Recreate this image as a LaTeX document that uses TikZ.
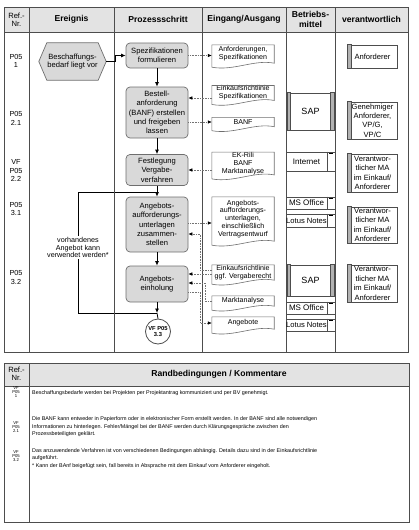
\documentclass[tikz,border=0pt]{standalone}
\usepackage{fontspec}
\setmainfont{Liberation Sans}
\usetikzlibrary{arrows.meta,calc,backgrounds}
\definecolor{hdrfill}{HTML}{E3E3E3}
\definecolor{boxfill}{HTML}{D9D9D9}
\definecolor{linec}{HTML}{4D4D4D}
\definecolor{boxline}{HTML}{6E6E6E}
\newcommand{\fs}[2]{\fontsize{#1}{#2}\selectfont}
\newcommand{\tabt}[1]{\makebox[41pt]{#1}\hspace*{8pt}}
\tikzset{
  tl/.style={draw=linec, line width=0.8pt},
  hdr/.style={font=\fs{8.6}{9.2}\bfseries, align=center, inner sep=0pt},
  hdrref/.style={font=\fs{7.6}{8.4}, align=center, inner sep=0pt},
  reft/.style={font=\fs{7.3}{8.5}, align=center, inner sep=0pt},
  evt/.style={minimum width=67pt, minimum height=37pt, align=center, font=\fs{7.6}{8.6}, inner sep=0pt},
  evline/.style={draw=boxline, fill=boxfill, line width=0.7pt},
  proc/.style={draw=boxline, fill=boxfill, rounded corners=4pt, line width=0.7pt, minimum width=62pt, align=center, font=\fs{7.6}{9.3}, inner sep=0pt},
  docn/.style={minimum width=62pt, align=center, font=\fs{7.1}{7.9}, inner sep=0pt},
  docline/.style={draw=boxline, line width=0.6pt},
  flow/.style={-{Latex[length=4.5pt,width=4pt]}, line width=0.8pt, black},
  flowl/.style={line width=0.8pt, black},
  info/.style={-{Latex[length=4pt,width=3.6pt,color=black]}, densely dotted, line width=0.6pt, black!55},
  infol/.style={densely dotted, line width=0.6pt, black!55},
  bm/.style={draw=linec, line width=0.7pt, minimum width=49pt, inner sep=0pt, font=\fs{8}{9}},
  vb/.style={draw=linec, line width=0.7pt, minimum width=49pt, inner sep=0pt, align=center, font=\fs{7.6}{9.4}},
  lab/.style={fill=white, align=center, font=\fs{7.2}{7.7}, inner sep=1pt},
  body/.style={align=left, font=\fs{5.4}{7.4}, inner sep=0pt, anchor=north west},
  sref/.style={align=center, font=\fs{4.2}{4.2}, inner sep=0pt}
}
\begin{document}
\begin{tikzpicture}[x=1pt,y=-1pt]
\useasboundingbox (0,0) rectangle (418,530);
% ---------- table 1 frame
\fill[hdrfill] (4,7) rectangle (408,32);
\draw[tl] (4,7) rectangle (408,352);
\draw[tl] (4,32) -- (408,32);
\foreach \x in {29,114,202,286,335} \draw[tl] (\x,7) -- (\x,352);
% headers
\node[hdrref] (h1) at (16.5,19.5) {Ref.-\\Nr.};
\node[hdr] (h2) at (71.5,19.5) {Ereignis};
\node[hdr] (h3) at (158,19.5) {Prozessschritt};
\node[hdr] (h4) at (244,19.5) {Eingang/Ausgang};
\node[hdr] (h5) at (310.5,19.5) {Betriebs-\\mittel};
\node[hdr] (h6) at (371.5,19.5) {verantwortlich};
% ref numbers
\node[reft] (r1) at (16,61) {P05\\1};
\node[reft] (r2) at (16,118.5) {P05\\2.1};
\node[reft] (r3) at (16,170.5) {VF\\P05\\2.2};
\node[reft] (r4) at (16,209) {P05\\3.1};
\node[reft] (r5) at (16,277.5) {P05\\3.2};
% event
\node[evt] (ev) at (72.5,61.5) {Beschaffungs-\\bedarf liegt vor};
\begin{scope}[on background layer]
\draw[evline] (ev.west) -- ([xshift=8pt]ev.north west) -- ([xshift=-8pt]ev.north east) -- (ev.east) -- ([xshift=-8pt]ev.south east) -- ([xshift=8pt]ev.south west) -- cycle;
\end{scope}
% process steps
\node[proc, minimum height=25pt] (p1) at (157,55.5) {Spezifikationen\\formulieren};
\node[proc, minimum height=51pt] (p2) at (157,112.5) {Bestell-\\anforderung\\(BANF) erstellen\\und freigeben\\lassen};
\node[proc, minimum height=31pt] (p3) at (157,170) {Festlegung\\Vergabe-\\verfahren};
\node[proc, minimum height=55pt] (p4) at (157,224.5) {Angebots-\\aufforderungs-\\unterlagen\\zusammen-\\stellen};
\node[proc, minimum height=36pt] (p5) at (157,284) {Angebots-\\einholung};
\node[circle, draw=linec, fill=white, line width=0.8pt, minimum size=25pt, inner sep=0pt, align=center, font=\fs{5.8}{6.6}\bfseries] (c) at (158,331.5) {VF P05\\3.3};
% flow
\coordinate (j1) at (157,192);
\coordinate (j2) at (157,313);
\node[lab] (lb) at (78,247.5) {vorhandenes\\Angebot kann\\verwendet werden*};
\draw[flow] (ev.east) -- ++(9,0) |- (p1.west);
\draw[flow] (p1.south) -- (p2.north);
\draw[flow] (p2.south) -- (p3.north);
\draw[flow] (p3.south) -- (p4.north);
\draw[flow] (p4.south) -- (p5.north);
\draw[flow] (p5.south) -- (j2);
\draw[flowl] (j2) -- (c.north);
\begin{scope}[on background layer]
\draw[flowl] (j1) -- (j1 -| lb) -- (j2 -| lb) -- (j2);
\end{scope}
% documents
\node[docn, minimum height=18pt] (d1) at (243,54) {Anforderungen,\\Spezifikationen};
\node[docn, minimum height=14pt] (d2) at (243,93) {Einkaufsrichtlinie\\Spezifikationen};
\node[docn, minimum height=9pt] (d3) at (243,122) {BANF};
\node[docn, minimum height=22pt] (d4) at (243,163.5) {EK-Rili\\BANF\\Marktanalyse};
\node[docn, minimum height=44pt] (d5) at (243,219) {Angebots-\\aufforderungs-\\unterlagen,\\einschließlich\\Vertragsentwurf};
\node[docn, minimum height=15pt] (d6) at (243,272.5) {Einkaufsrichtlinie\\ggf. Vergaberecht};
\node[docn, minimum height=10pt] (d7) at (243,301) {Marktanalyse};
\node[docn, minimum height=12pt] (d8) at (243,323) {Angebote};
\foreach \i in {1,...,8}
  \draw[docline] (d\i.north west) -- (d\i.north east) -- (d\i.south east)
    .. controls ($(d\i.south east)+(-20,-4)$) and ($(d\i.south west)+(22,8)$) .. ($(d\i.south west)+(0,4)$) -- cycle;
% information connectors
\coordinate (y98) at (0,98);
\coordinate (y170) at (0,170);
\coordinate (y223) at (0,223);
\coordinate (y234) at (0,234);
\coordinate (y270) at (0,270);
\coordinate (y274) at (0,274);
\coordinate (y283) at (0,283);
\coordinate (y292) at (0,292);
\coordinate (k1) at (200,0);
\coordinate (k2) at (205,0);
\draw[info] (p1.east) -- (p1.east -| d1.west);
\draw[info] (d2.west |- y98) -- (p2.east |- y98);
\draw[info] (p2.east |- d3.west) -- (d3.west);
\draw[info] (d4.west |- y170) -- (p3.east |- y170);
\draw[info] (p4.east |- y223) -- (d5.west |- y223);
\draw[info] (d6.west |- y270) -- (k1 |- y270) -- (k1 |- y234) -- (p4.east |- y234);
\draw[info] (d6.west |- y274) -- (p5.east |- y274);
\draw[info] (d7.west) -- (k2 |- d7.west) -- (k2 |- y283) -- (p5.east |- y283);
\draw[info] (p5.east |- y292) -- (k1 |- y292) -- (k1 |- d8.west) -- (d8.west);
% Betriebsmittel
\node[bm, minimum height=37pt, font=\fs{9}{10}] (sap1) at (310.5,111.5) {SAP};
\node[bm, minimum height=19pt] (inet) at (310.5,161.5) {\tabt{Internet}};
\node[bm, minimum height=12pt] (mso1) at (310.5,203) {\tabt{MS Office}};
\node[bm, minimum height=13pt, font=\fs{7.6}{9}] (ln1) at (310.5,220.5) {\tabt{Lotus Notes}};
\node[bm, minimum height=31pt, font=\fs{9}{10}] (sap2) at (310.5,280.5) {SAP};
\node[bm, minimum height=12pt] (mso2) at (310.5,308) {\tabt{MS Office}};
\node[bm, minimum height=12pt, font=\fs{7.6}{9}] (ln2) at (310.5,325) {\tabt{Lotus Notes}};
\foreach \n in {sap1,sap2} {
  \draw[draw=linec, fill=black!30, line width=0.5pt] ([xshift=1.5pt]\n.north west) rectangle ([xshift=5pt]\n.south west);
  \draw[draw=linec, fill=black!30, line width=0.5pt] ([xshift=-1.5pt]\n.north east) rectangle ([xshift=-5pt]\n.south east);
}
\foreach \n in {inet,mso1,ln1,mso2,ln2} {
  \draw[draw=linec, line width=0.6pt] ([xshift=-8pt]\n.north east) -- ([xshift=-8pt]\n.south east);
  \fill[black] ([xshift=-6pt,yshift=-1.5pt]\n.north east) rectangle ([xshift=-2pt,yshift=-2.7pt]\n.north east);
}
% verantwortlich
\node[vb, minimum height=23pt] (v1) at (372.5,56.5) {Anforderer};
\node[vb, minimum height=37pt] (v2) at (372.5,120.5) {Genehmiger\\Anforderer,\\VP/G,\\VP/C};
\node[vb, minimum height=38pt] (v3) at (372.5,173) {Verantwor-\\tlicher MA\\im Einkauf/\\Anforderer};
\node[vb, minimum height=36pt] (v4) at (372.5,225) {Verantwor-\\tlicher MA\\im Einkauf/\\Anforderer};
\node[vb, minimum height=37pt] (v5) at (372.5,283.5) {Verantwor-\\tlicher MA\\im Einkauf/\\Anforderer};
\foreach \n in {v1,v2,v3,v4,v5}
  \draw[draw=linec, fill=black!30, line width=0.5pt] (\n.north west) rectangle ([xshift=3.5pt]\n.south west);
% ---------- table 2
\fill[hdrfill] (4,363) rectangle (409,386);
\draw[tl] (4,363) rectangle (409,522);
\draw[tl] (4,386) -- (409,386);
\draw[tl] (29,363) -- (29,522);
\node[hdrref] (g1) at (16.5,373.5) {Ref.-\\Nr.};
\node[hdr] (g2) at (219,374.5) {Randbedingungen / Kommentare};
\node[sref] (s1) at (16,392) {VF\\P05\\1};
\node[sref] (s2) at (16,427) {VF\\P05\\2.1};
\node[sref] (s3) at (16,456) {VF\\P05\\3.2};
\node[body] (t1) at (32,390.6) {Beschaffungsbedarfe werden bei Projekten per Projektantrag kommuniziert und per BV genehmigt.};
\node[body] (t2) at (32,416.8) {Die BANF kann entweder in Papierform oder in elektronischer Form erstellt werden. In der BANF sind alle notwendigen\\Informationen zu hinterlegen. Fehler/Mängel bei der BANF werden durch Klärungsgespräche zwischen den\\Prozessbeteiligten geklärt.};
\node[body] (t3) at (32,448.2) {Das anzuwendende Verfahren ist von verschiedenen Bedingungen abhängig. Details dazu sind in der Einkaufsrichtlinie\\aufgeführt.\\* Kann der BAnf beigefügt sein, fall bereits in Absprache mit dem Einkauf vom Anforderer eingeholt.};
\end{tikzpicture}
\end{document}
